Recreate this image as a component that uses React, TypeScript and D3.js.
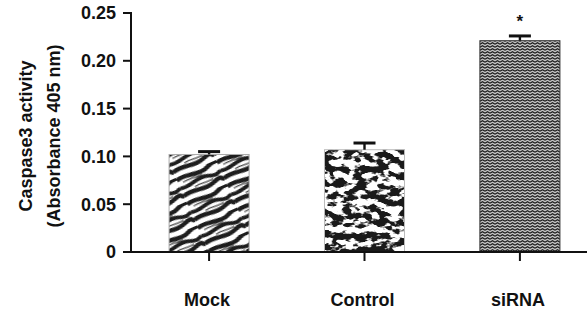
import React from "react";
import * as d3 from "d3";

const categories = ["Mock", "Control", "siRNA"];
const means = [0.102, 0.107, 0.221];
const errors = [0.003, 0.007, 0.005];
const significance = ["", "", "*"];
const yTicks = [0, 0.05, 0.1, 0.15, 0.2, 0.25];
const yTickLabels = ["0", "0.05", "0.10", "0.15", "0.20", "0.25"];
const yLabelLines = ["Caspase3 activity", "(Absorbance 405 nm)"];

const W = 587;
const H = 312;
const FONT = "'Liberation Sans', Arial, Helvetica, sans-serif";

export default function App() {
  const x0 = 131;
  const yBase = 252;
  const x = d3
    .scaleBand<string>()
    .domain(categories)
    .range([x0, 598])
    .paddingInner(0.485)
    .paddingOuter(0.245);
  const y = d3.scaleLinear().domain([0, 0.25]).range([yBase, 13]);
  const fills = ["url(#zebra)", "url(#camo)", "url(#zigzag)"];
  const strokes = ["#aaa", "#bbb", "#333"];

  return (
    <svg
      width={W}
      height={H}
      style={{ position: "absolute", left: 0, top: 0, background: "#fff" }}
      fontFamily={FONT}
    >
      <defs>
        <pattern id="zebra" width="44" height="26" patternUnits="userSpaceOnUse" patternTransform="rotate(-24)">
          <rect width="44" height="26" fill="#fff" />
          <path d="M0 3 C11 -1 22 8 33 3 S44 3 44 3" stroke="#1e1e1e" strokeWidth="4.4" fill="none" />
          <path d="M0 11.5 C10 15 20 7 30 11 S40 12.5 44 11.5" stroke="#1e1e1e" strokeWidth="3.8" fill="none" />
          <path d="M0 20 C12 16 22 24 33 19.5 S41 20 44 20" stroke="#1e1e1e" strokeWidth="4.4" fill="none" />
          <path d="M5 7 C12 5.5 19 8.5 26 6.8" stroke="#444" strokeWidth="1.2" fill="none" />
          <path d="M14 16 C21 14 27 17.5 34 15.8" stroke="#444" strokeWidth="1.2" fill="none" />
        </pattern>
        <pattern id="zigzag" width="5" height="3" patternUnits="userSpaceOnUse">
          <rect width="5" height="3" fill="#c4c4c4" />
          <path d="M0 2.3 L2.5 0.7 L5 2.3" stroke="#1a1a1a" strokeWidth="1.15" fill="none" />
        </pattern>
        <filter
          id="camoFilter"
          x="0"
          y="0"
          width="1"
          height="1"
          filterUnits="objectBoundingBox"
          colorInterpolationFilters="sRGB"
        >
          <feTurbulence type="fractalNoise" baseFrequency="0.09 0.15" numOctaves="3" seed="11" result="noise" />
          <feColorMatrix
            in="noise"
            type="matrix"
            values="0 0 0 0 0.1  0 0 0 0 0.1  0 0 0 0 0.1  -9 1.5 0 0 4.3"
            result="dark"
          />
          <feFlood floodColor="#fff" result="white" />
          <feComposite in="dark" in2="white" operator="over" result="tex" />
          <feComposite in="tex" in2="SourceAlpha" operator="in" />
        </filter>
      </defs>

      {/* bars */}
      {categories.map((c, i) => {
        const bx = x(c)!;
        const bw = x.bandwidth();
        const top = y(means[i]);
        return (
          <g key={c}>
            <rect
              x={bx}
              y={top}
              width={bw}
              height={yBase - top}
              fill={i === 1 ? "#000" : fills[i]}
              filter={i === 1 ? "url(#camoFilter)" : undefined}
            />
            <rect
              x={bx}
              y={top}
              width={bw}
              height={yBase - top}
              fill="none"
              stroke={strokes[i]}
              strokeWidth={1}
            />
          </g>
        );
      })}

      {/* error bars */}
      {categories.map((c, i) => {
        const cx = x(c)! + x.bandwidth() / 2;
        const top = y(means[i]);
        const ey = y(means[i] + errors[i]);
        return (
          <g key={"e" + c} stroke="#111" strokeWidth={2.4}>
            <line x1={cx} x2={cx} y1={top} y2={ey} />
            <line x1={cx - 11} x2={cx + 11} y1={ey} y2={ey} strokeWidth={3} />
            {significance[i] && (
              <text
                x={cx}
                y={ey - 9}
                textAnchor="middle"
                fontSize={17}
                fontWeight="bold"
                stroke="none"
                fill="#111"
              >
                {significance[i]}
              </text>
            )}
          </g>
        );
      })}

      {/* y axis */}
      <line x1={x0} x2={x0} y1={y(0.25) - 1} y2={yBase + 1} stroke="#111" strokeWidth={2} />
      {yTicks.map((t, i) => (
        <g key={t}>
          <line x1={x0 - 8} x2={x0} y1={y(t)} y2={y(t)} stroke="#111" strokeWidth={2} />
          <text
            x={x0 - 15}
            y={y(t)}
            dy="0.36em"
            textAnchor="end"
            fontSize={18}
            fontWeight="bold"
            fill="#111"
          >
            {yTickLabels[i]}
          </text>
        </g>
      ))}

      {/* x axis */}
      <line x1={x0 - 8} x2={W} y1={yBase} y2={yBase} stroke="#111" strokeWidth={2} />
      {categories.map((c) => {
        const cx = x(c)! + x.bandwidth() / 2;
        return (
          <g key={"t" + c}>
            <line x1={cx} x2={cx} y1={yBase} y2={yBase + 9} stroke="#111" strokeWidth={2} />
            <text
              x={cx - 2}
              y={306}
              textAnchor="middle"
              fontSize={18}
              fontWeight="bold"
              fill="#111"
            >
              {c}
            </text>
          </g>
        );
      })}

      {/* y label */}
      <g transform="translate(0,136) rotate(-90)">
        {yLabelLines.map((l, i) => (
          <text
            key={l}
            x={0}
            y={32 + i * 28}
            textAnchor="middle"
            fontSize={18}
            fontWeight="bold"
            fill="#111"
          >
            {l}
          </text>
        ))}
      </g>
    </svg>
  );
}
